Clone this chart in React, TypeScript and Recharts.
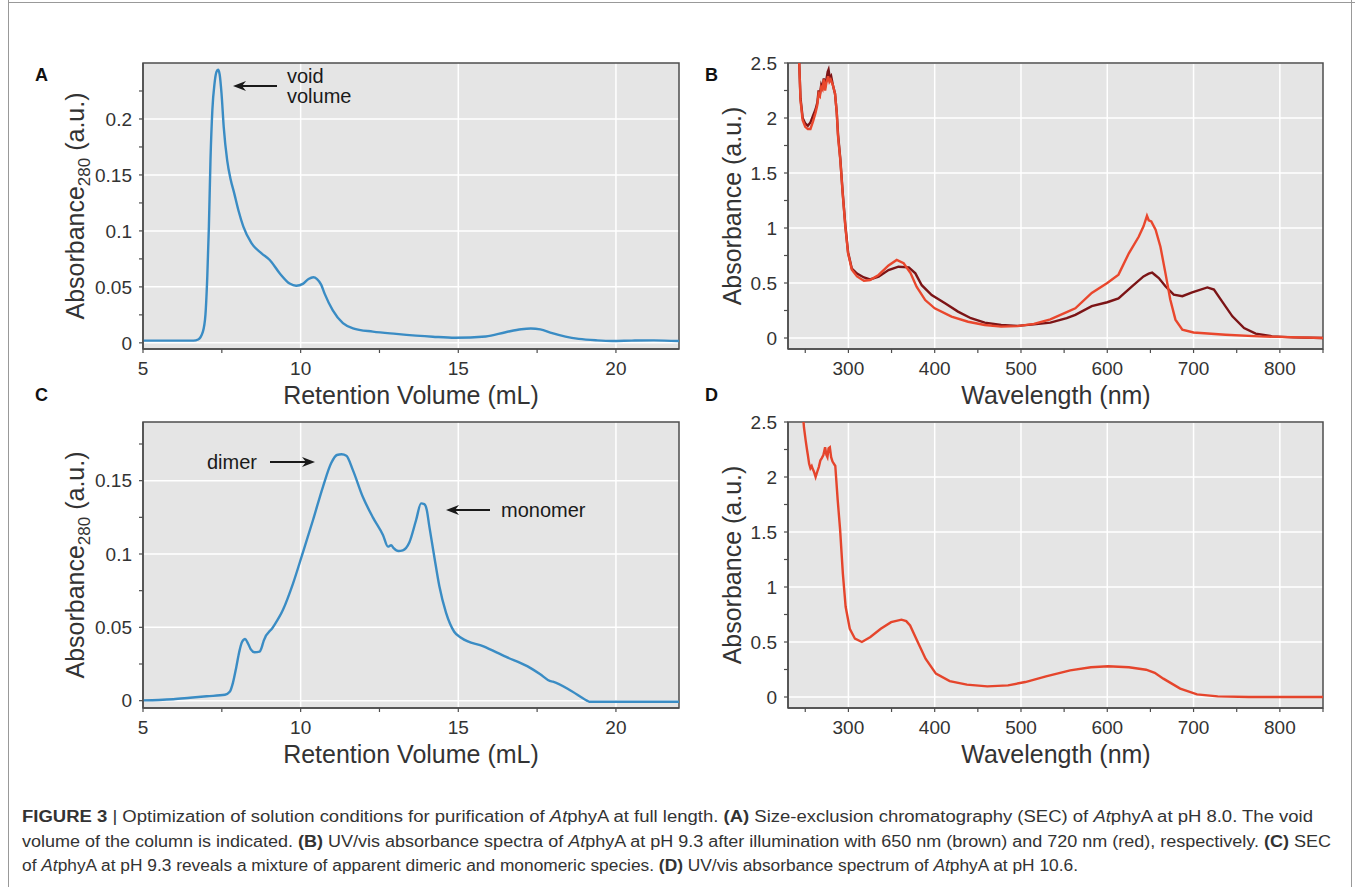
import React from 'react';
import { LineChart, Line, XAxis, YAxis, CartesianGrid, ReferenceArea } from 'recharts';

const FONT = '"Liberation Sans", Arial, sans-serif';

// ---- Panel A: SEC at pH 8.0 ----
const secVolA = [5.0, 6.0, 6.6, 6.75, 6.9, 6.98, 7.04, 7.09, 7.14, 7.2, 7.27, 7.33, 7.38, 7.43, 7.49, 7.56, 7.67, 7.78, 7.89, 8.03, 8.18, 8.44, 8.76, 9.02, 9.34, 9.65, 9.86, 10.07, 10.25, 10.4, 10.52, 10.65, 10.76, 11.02, 11.34, 11.66, 12.29, 13.03, 14.19, 14.9, 15.87, 16.5, 17.0, 17.3, 17.6, 17.98, 18.4, 18.82, 19.4, 19.88, 20.5, 21.2, 22.0];
const secAbsA = [0.002, 0.002, 0.002, 0.003, 0.01, 0.025, 0.06, 0.104, 0.163, 0.208, 0.232, 0.242, 0.244, 0.24, 0.223, 0.193, 0.163, 0.146, 0.134, 0.118, 0.104, 0.089, 0.08, 0.074, 0.062, 0.053, 0.051, 0.0527, 0.057, 0.0586, 0.057, 0.052, 0.044, 0.029, 0.0176, 0.013, 0.01, 0.008, 0.0055, 0.0045, 0.0057, 0.0095, 0.0122, 0.0128, 0.012, 0.0086, 0.0055, 0.0035, 0.0022, 0.0017, 0.002, 0.0022, 0.0016];

// ---- Panel C: SEC at pH 9.3 ----
const secVolC = [5.0, 5.5, 5.96, 6.49, 7.02, 7.6, 7.75, 7.85, 7.96, 8.05, 8.14, 8.24, 8.33, 8.42, 8.54, 8.7, 8.76, 8.83, 9.12, 9.44, 9.76, 10.07, 10.39, 10.71, 10.97, 11.15, 11.3, 11.45, 11.66, 11.97, 12.29, 12.61, 12.77, 12.87, 12.95, 13.1, 13.24, 13.45, 13.66, 13.82, 13.92, 14.0, 14.08, 14.24, 14.4, 14.61, 14.87, 15.1, 15.8, 16.5, 17.2, 17.6, 17.9, 18.0, 18.6, 19.08, 19.15, 20, 21, 22];
const secAbsC = [0.0002, 0.0005, 0.001, 0.002, 0.003, 0.004, 0.006, 0.012, 0.023, 0.033, 0.04, 0.042, 0.039, 0.035, 0.033, 0.0335, 0.036, 0.041, 0.05, 0.062, 0.08, 0.101, 0.123, 0.146, 0.162, 0.1675, 0.168, 0.167, 0.157, 0.139, 0.125, 0.113, 0.105, 0.106, 0.104, 0.102, 0.1025, 0.108, 0.123, 0.1345, 0.134, 0.13, 0.119, 0.098, 0.078, 0.06, 0.047, 0.0427, 0.037, 0.03, 0.0234, 0.018, 0.0135, 0.013, 0.0064, 0.0, -0.0007, -0.0007, -0.0007, -0.0007];

// ---- Panel B: UV/vis at pH 9.3, after 650 nm (brown) and 720 nm (red) ----
const wlBrown = [241, 243, 244.5, 247, 250, 253, 256, 259, 262, 264, 265.5, 267, 268.5, 270, 271.5, 273, 274.5, 276, 277, 278.5, 280, 282, 284.5, 286.5, 288, 290.6, 293.3, 296.5, 299.6, 304, 310, 318, 325, 335, 346.5, 358, 370, 377.6, 385, 396.5, 412, 427, 442, 458, 477, 496, 515, 534, 553, 563, 582, 600, 613, 628.7, 642, 648, 652, 655, 659.7, 667.4, 677, 687, 698.4, 716, 723.6, 733, 745, 758.5, 772, 791, 815, 850];
const absBrown = [2.8, 2.5, 2.18, 2.0, 1.95, 1.93, 1.96, 2.02, 2.08, 2.14, 2.25, 2.22, 2.3, 2.27, 2.36, 2.28, 2.35, 2.42, 2.44, 2.36, 2.38, 2.3, 2.22, 2.05, 1.85, 1.63, 1.33, 1.02, 0.78, 0.63, 0.585, 0.55, 0.533, 0.557, 0.618, 0.648, 0.642, 0.588, 0.48, 0.39, 0.315, 0.24, 0.18, 0.14, 0.118, 0.11, 0.124, 0.14, 0.18, 0.21, 0.29, 0.325, 0.36, 0.47, 0.56, 0.585, 0.595, 0.575, 0.545, 0.47, 0.394, 0.38, 0.415, 0.46, 0.44, 0.333, 0.197, 0.09, 0.04, 0.015, 0.006, 0];
const wlRed = [241, 243, 244.5, 247, 250, 253, 256, 259, 262, 264, 265.5, 267, 268.5, 270, 271.5, 273, 274.5, 276.5, 278, 279.5, 282, 284.5, 286.5, 288, 290.6, 293.3, 296.5, 299.6, 304, 310, 318, 325, 335, 346.5, 356, 364, 372, 379, 389, 400, 419.5, 438.7, 458, 477, 496, 515, 534, 553, 563, 582, 600, 613, 625, 636.4, 642, 646, 648, 651, 656, 661.6, 667.4, 673, 679, 687, 700, 737, 776, 850];
const absRed = [2.8, 2.5, 2.16, 1.98, 1.92, 1.9, 1.9, 1.97, 2.05, 2.12, 2.22, 2.2, 2.28, 2.26, 2.35, 2.25, 2.32, 2.38, 2.33, 2.35, 2.3, 2.22, 2.05, 1.83, 1.62, 1.32, 1.01, 0.77, 0.62, 0.56, 0.52, 0.527, 0.573, 0.66, 0.71, 0.68, 0.59, 0.467, 0.345, 0.27, 0.194, 0.148, 0.118, 0.103, 0.108, 0.128, 0.17, 0.235, 0.27, 0.41, 0.5, 0.576, 0.77, 0.92, 1.015, 1.11, 1.07, 1.06, 0.985, 0.83, 0.59, 0.35, 0.167, 0.076, 0.05, 0.03, 0.015, 0];

// ---- Panel D: UV/vis at pH 10.6 ----
const wlD = [246, 248.5, 250.5, 252, 253, 254.5, 256, 257.5, 258.8, 260, 262, 264, 265.7, 267.5, 269, 271, 273, 274.5, 275.7, 277, 278.5, 280, 281.6, 284.8, 287.6, 290.4, 293.6, 296.8, 301.6, 307.6, 315.6, 325.5, 337.5, 349.5, 361.5, 367, 371.5, 379.4, 389.4, 401.4, 417.4, 437.3, 461, 485, 505, 529, 557, 581, 601, 625, 645, 655, 665, 684.5, 704, 728, 764, 800, 850];
const absD = [2.7, 2.45, 2.33, 2.25, 2.2, 2.12, 2.08, 2.1, 2.07, 2.05, 2.0, 2.05, 2.09, 2.15, 2.17, 2.2, 2.27, 2.2, 2.18, 2.26, 2.27, 2.18, 2.14, 2.1, 1.79, 1.52, 1.12, 0.82, 0.62, 0.53, 0.5, 0.545, 0.62, 0.68, 0.703, 0.69, 0.65, 0.515, 0.348, 0.212, 0.145, 0.112, 0.097, 0.106, 0.136, 0.188, 0.242, 0.27, 0.279, 0.27, 0.248, 0.22, 0.167, 0.076, 0.024, 0.006, 0.0, 0.0, 0.0];

// ---- axes ----
const secTicks = [5, 7.5, 10, 12.5, 15, 17.5, 20];
const secMajors = [5, 10, 15, 20];
const secTicksYA = [0, 0.025, 0.05, 0.075, 0.1, 0.125, 0.15, 0.175, 0.2, 0.225];
const secMajorsYA = [0, 0.05, 0.1, 0.15, 0.2];
const secTicksYC = [0, 0.025, 0.05, 0.075, 0.1, 0.125, 0.15, 0.175];
const secMajorsYC = [0, 0.05, 0.1, 0.15];
const wlTicks = [250, 300, 350, 400, 450, 500, 550, 600, 650, 700, 750, 800, 850];
const wlMajors = [300, 400, 500, 600, 700, 800];
const absTicks = [0, 0.25, 0.5, 0.75, 1, 1.25, 1.5, 1.75, 2, 2.25, 2.5];
const absMajors = [0, 0.5, 1, 1.5, 2, 2.5];

const zip = (xs: number[], ys: number[]) => xs.map((x, i) => ({ x, y: ys[i] }));

const AXIS = '#4d4d4d';
const TICK = { fill: '#333', fontSize: 19, fontFamily: FONT };

interface Series { name: string; data: { x: number; y: number }[]; color: string; curve: 'monotone' | 'linear'; }

const Panel = ({ left, top, width, height, margin, yWidth, xDomain, xTicks, xMajors, yDomain, yTicks, yMajors, series }: any) => (
    <div style={{ position: 'absolute', left, top, width, height }}>
        <LineChart width={width} height={height} margin={margin}>
            <CartesianGrid fill="#e5e5e5" stroke="#fff" strokeWidth={1.5}
                verticalValues={xMajors} horizontalValues={yMajors} />
            <XAxis type="number" dataKey="x" domain={xDomain} ticks={xTicks} allowDataOverflow
                tickFormatter={(v: number) => (xMajors.includes(v) ? String(v) : '')}
                height={40} tickSize={4} tickMargin={9} tick={TICK}
                axisLine={{ stroke: AXIS, strokeWidth: 1.5 }} tickLine={{ stroke: AXIS, strokeWidth: 1.2 }} />
            <YAxis type="number" domain={yDomain} ticks={yTicks} allowDataOverflow width={yWidth}
                tickFormatter={(v: number) => (yMajors.includes(v) ? String(v) : '')}
                tickSize={4} tickMargin={7} tick={TICK}
                axisLine={{ stroke: AXIS, strokeWidth: 1.5 }} tickLine={{ stroke: AXIS, strokeWidth: 1.2 }} />
            <ReferenceArea x1={xDomain[0]} x2={xDomain[1]} y1={yDomain[0]} y2={yDomain[1]}
                fill="none" stroke={AXIS} strokeWidth={1.5} />
            {series.map((s: Series) => (
                <Line key={s.name} data={s.data} dataKey="y" type={s.curve} stroke={s.color}
                    strokeWidth={2.4} dot={false} activeDot={false} isAnimationActive={false} />
            ))}
        </LineChart>
    </div>
);

const Arrow = ({ x1, x2, y }: { x1: number; x2: number; y: number }) => {
    // x1 = tail, x2 = tip
    const d = x2 > x1 ? 1 : -1;
    return (
        <g>
            <line x1={x1} y1={y} x2={x2 - d * 8} y2={y} stroke="#1a1a1a" strokeWidth={2} />
            <path d={`M${x2},${y} L${x2 - d * 13},${y - 5} L${x2 - d * 9},${y} L${x2 - d * 13},${y + 5} Z`} fill="#1a1a1a" />
        </g>
    );
};

const YTitle = ({ x, y, sub }: { x: number; y: number; sub?: boolean }) => (
    <text transform={`translate(${x},${y}) rotate(-90)`} textAnchor="middle" fontSize={25} fill="#333" fontFamily={FONT}>
        Absorbance
        {sub ? <tspan fontSize={17} dy={6}>280</tspan> : null}
        <tspan dy={sub ? -6 : 0}> (a.u.)</tspan>
    </text>
);

export default function App() {
    const b = { fontWeight: 700 };
    const i = { fontStyle: 'italic' as const };
    return (
        <div style={{ position: 'absolute', left: 0, top: 0, width: 1355, height: 887, background: '#fff', fontFamily: FONT }}>
            <Panel left={0} top={0} width={690} height={400} margin={{ top: 63, right: 11, bottom: 11, left: 0 }} yWidth={143}
                xDomain={[5, 22]} xTicks={secTicks} xMajors={secMajors}
                yDomain={[-0.0055, 0.25]} yTicks={secTicksYA} yMajors={secMajorsYA}
                series={[{ name: 'secA', data: zip(secVolA, secAbsA), color: '#3a8cc4', curve: 'monotone' }]} />
            <Panel left={690} top={0} width={665} height={400} margin={{ top: 63, right: 32, bottom: 11, left: 0 }} yWidth={98}
                xDomain={[230, 850]} xTicks={wlTicks} xMajors={wlMajors}
                yDomain={[-0.1, 2.5]} yTicks={absTicks} yMajors={absMajors}
                series={[
                    { name: '650', data: zip(wlBrown, absBrown), color: '#7c1416', curve: 'linear' },
                    { name: '720', data: zip(wlRed, absRed), color: '#e9472d', curve: 'linear' },
                ]} />
            <Panel left={0} top={400} width={690} height={360} margin={{ top: 22, right: 11, bottom: 12, left: 0 }} yWidth={143}
                xDomain={[5, 22]} xTicks={secTicks} xMajors={secMajors}
                yDomain={[-0.005, 0.19]} yTicks={secTicksYC} yMajors={secMajorsYC}
                series={[{ name: 'secC', data: zip(secVolC, secAbsC), color: '#3a8cc4', curve: 'monotone' }]} />
            <Panel left={690} top={400} width={665} height={360} margin={{ top: 22, right: 32, bottom: 12, left: 0 }} yWidth={98}
                xDomain={[230, 850]} xTicks={wlTicks} xMajors={wlMajors}
                yDomain={[-0.1, 2.5]} yTicks={absTicks} yMajors={absMajors}
                series={[{ name: 'D', data: zip(wlD, absD), color: '#e5452c', curve: 'linear' }]} />

            <svg width={1355} height={887} style={{ position: 'absolute', left: 0, top: 0, pointerEvents: 'none' }} fontFamily={FONT}>
                {/* figure frame */}
                <line x1={8.5} y1={0} x2={8.5} y2={887} stroke="#999" strokeWidth={1} />
                <line x1={8} y1={2.5} x2={1355} y2={2.5} stroke="#999" strokeWidth={1} />
                <line x1={1351.5} y1={0} x2={1351.5} y2={887} stroke="#999" strokeWidth={1} />

                {/* panel letters */}
                <text x={35} y={81} fontSize={18} fontWeight={700} fill="#111">A</text>
                <text x={705} y={81} fontSize={18} fontWeight={700} fill="#111">B</text>
                <text x={35} y={401} fontSize={18} fontWeight={700} fill="#111">C</text>
                <text x={705} y={401} fontSize={18} fontWeight={700} fill="#111">D</text>

                {/* axis titles */}
                <YTitle x={84} y={206} sub />
                <YTitle x={741} y={206} />
                <YTitle x={84} y={565} sub />
                <YTitle x={741} y={565} />
                <text x={411} y={404} textAnchor="middle" fontSize={25} fill="#333">Retention Volume (mL)</text>
                <text x={1056} y={404} textAnchor="middle" fontSize={25} fill="#333">Wavelength (nm)</text>
                <text x={411} y={763} textAnchor="middle" fontSize={25} fill="#333">Retention Volume (mL)</text>
                <text x={1056} y={763} textAnchor="middle" fontSize={25} fill="#333">Wavelength (nm)</text>

                {/* annotations */}
                <Arrow x1={277} x2={233} y={86} />
                <text x={287} y={83} fontSize={20} fill="#1a1a1a">void</text>
                <text x={287} y={103} fontSize={20} fill="#1a1a1a">volume</text>
                <text x={207} y={469} fontSize={20} fill="#1a1a1a">dimer</text>
                <Arrow x1={270} x2={315} y={462} />
                <Arrow x1={490} x2={446} y={510} />
                <text x={501} y={517} fontSize={20} fill="#1a1a1a">monomer</text>

                {/* caption */}
                <g fontSize={16} fill="#333">
                    <text x={22} y={822} textLength={1291} lengthAdjust="spacingAndGlyphs">
                        <tspan style={b}>FIGURE 3</tspan> | Optimization of solution conditions for purification of <tspan style={i}>At</tspan>phyA at full length. <tspan style={b}>(A)</tspan> Size-exclusion chromatography (SEC) of <tspan style={i}>At</tspan>phyA at pH 8.0. The void
                    </text>
                    <text x={22} y={847} textLength={1309} lengthAdjust="spacingAndGlyphs">
                        volume of the column is indicated. <tspan style={b}>(B)</tspan> UV/vis absorbance spectra of <tspan style={i}>At</tspan>phyA at pH 9.3 after illumination with 650 nm (brown) and 720 nm (red), respectively. <tspan style={b}>(C)</tspan> SEC
                    </text>
                    <text x={22} y={871} textLength={1056} lengthAdjust="spacingAndGlyphs">
                        of <tspan style={i}>At</tspan>phyA at pH 9.3 reveals a mixture of apparent dimeric and monomeric species. <tspan style={b}>(D)</tspan> UV/vis absorbance spectrum of <tspan style={i}>At</tspan>phyA at pH 10.6.
                    </text>
                </g>
            </svg>
        </div>
    );
}
